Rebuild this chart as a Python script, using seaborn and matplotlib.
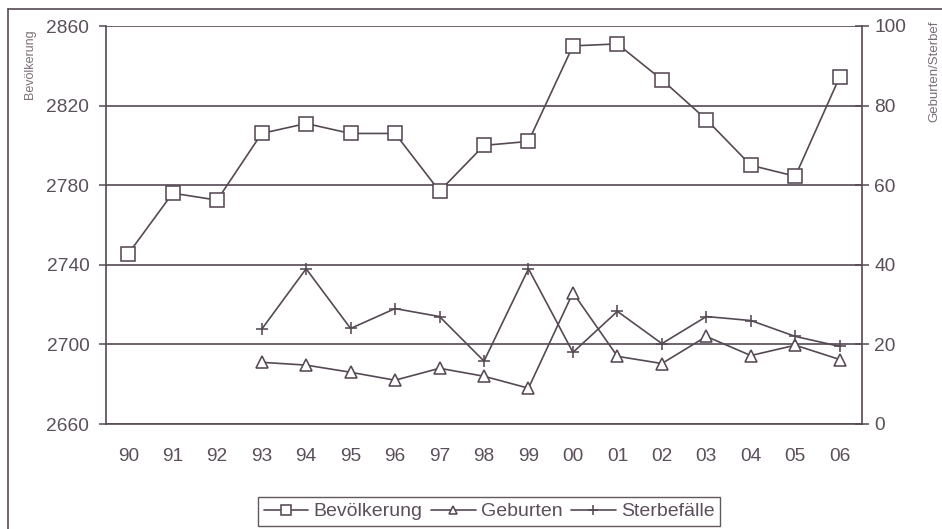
import numpy as np
import pandas as pd
import matplotlib
matplotlib.use("Agg")
import matplotlib.pyplot as plt
from matplotlib.lines import Line2D
import seaborn as sns

# ---- data ----
years = ['90', '91', '92', '93', '94', '95', '96', '97', '98', '99',
         '00', '01', '02', '03', '04', '05', '06']
bevoelkerung = [2745.5, 2776, 2772.5, 2806, 2811, 2806, 2806, 2777, 2800, 2802,
                2850, 2851, 2833, 2813, 2790, 2784.5, 2834.5]
geburten = [np.nan, np.nan, np.nan, 15.5, 14.8, 13, 11, 14, 12, 9,
            33, 17, 15.2, 22, 17.2, 19.8, 16.2]
sterbefaelle = [np.nan, np.nan, np.nan, 23.8, 39, 24, 29, 27, 15.8, 39,
                18, 28.3, 20.2, 27, 26, 22, 19.5]
left_ticks = [2660, 2700, 2740, 2780, 2820, 2860]
right_ticks = [0, 20, 40, 60, 80, 100]

sns.set_style("white")
plt.rcParams['font.family'] = ['Liberation Sans', 'DejaVu Sans']

INK = '#564954'
TXT = '#5a4f5a'

W, H = 942, 529
fig = plt.figure(figsize=(W / 100, H / 100), dpi=100)
ax = fig.add_axes([106 / W, 1 - 424 / H, (862 - 106) / W, (424 - 26) / H])
ax2 = ax.twinx()

idx = np.arange(len(years))
df = pd.DataFrame({'x': idx, 'bev': bevoelkerung, 'geb': geburten, 'ster': sterbefaelle})

common = dict(color=INK, linewidth=1.2, markerfacecolor='white',
              markeredgecolor=INK, markeredgewidth=1.15, errorbar=None, sort=False)

sns.lineplot(data=df, x='x', y='bev', ax=ax, marker='s', markersize=9.5,
             label='Bevölkerung', legend=False, **common)
d2 = df.dropna(subset=['geb'])
sns.lineplot(data=d2, x='x', y='geb', ax=ax2, marker='^', markersize=8.5,
             label='Geburten', legend=False, **common)
d3 = df.dropna(subset=['ster'])
sns.lineplot(data=d3, x='x', y='ster', ax=ax2, marker='+', markersize=9,
             label='Sterbefälle', legend=False, **common)

# ---- axes ----
ax.set_xlim(-0.5, len(years) - 0.5)
ax.set_ylim(2660, 2860)
ax2.set_ylim(0, 100)
ax.set_xlabel('')
ax.set_ylabel('')
ax2.set_ylabel('')

ax.set_xticks(idx)
ax.set_xticklabels(years)
ax.set_xticks(np.arange(-0.5, len(years), 1.0), minor=True)
ax.tick_params(axis='x', which='major', length=0, pad=17, labelsize=13.8, labelcolor=TXT)
ax.tick_params(axis='x', which='minor', length=5, width=1.1, color=INK, direction='out')

ax.set_yticks(left_ticks)
ax.tick_params(axis='y', which='major', length=5, width=1.1, color=INK, direction='out',
               pad=7, labelsize=13.8, labelcolor=TXT)
ax2.set_yticks(right_ticks)
ax2.tick_params(axis='y', which='major', length=10, width=1.1, color=INK, direction='inout',
                pad=4, labelsize=13.8, labelcolor=TXT)

ax.yaxis.grid(True, color=INK, linewidth=1.2)
ax.xaxis.grid(False)
ax2.grid(False)

for s in ['top', 'right']:
    ax.spines[s].set_visible(False)
for s in ['left', 'bottom']:
    ax.spines[s].set_color(INK)
    ax.spines[s].set_linewidth(1.2)
for s in ['top', 'left', 'bottom']:
    ax2.spines[s].set_visible(False)
ax2.spines['right'].set_color(INK)
ax2.spines['right'].set_linewidth(1.2)

# ---- axis titles ----
fig.text(30 / W, 1 - 64 / H, 'Bevölkerung', rotation=90, ha='center', va='center',
         fontsize=9, color='#7a6e78')
fig.text(934 / W, 1 - 122 / H, 'Geburten/Sterbef', rotation=90, ha='center',
         va='bottom', fontsize=9.5, color='#7a6e78')

# ---- legend ----
handles = [ax.get_lines()[0]] + ax2.get_lines()[:2]
labels = ['Bevölkerung', 'Geburten', 'Sterbefälle']
leg = fig.legend(handles, labels, loc='upper center', bbox_to_anchor=(489 / W, 1 - 497 / H),
                 ncol=3, fontsize=14, frameon=True, fancybox=False, shadow=False,
                 handlelength=2.3, handletextpad=0.25, columnspacing=0.45,
                 borderpad=0.3, borderaxespad=0, markerscale=0.75, labelcolor=TXT)
leg.get_frame().set_edgecolor('#3a3038')
leg.get_frame().set_linewidth(1.0)

# ---- outer frame ----
fig.add_artist(Line2D([8 / W, 8 / W], [0, 1 - 9 / H], transform=fig.transFigure,
                      color=INK, linewidth=1.2))
fig.add_artist(Line2D([8 / W, 1], [1 - 9 / H, 1 - 9 / H], transform=fig.transFigure,
                      color=INK, linewidth=1.2))

fig.savefig('out.png', dpi=100)
